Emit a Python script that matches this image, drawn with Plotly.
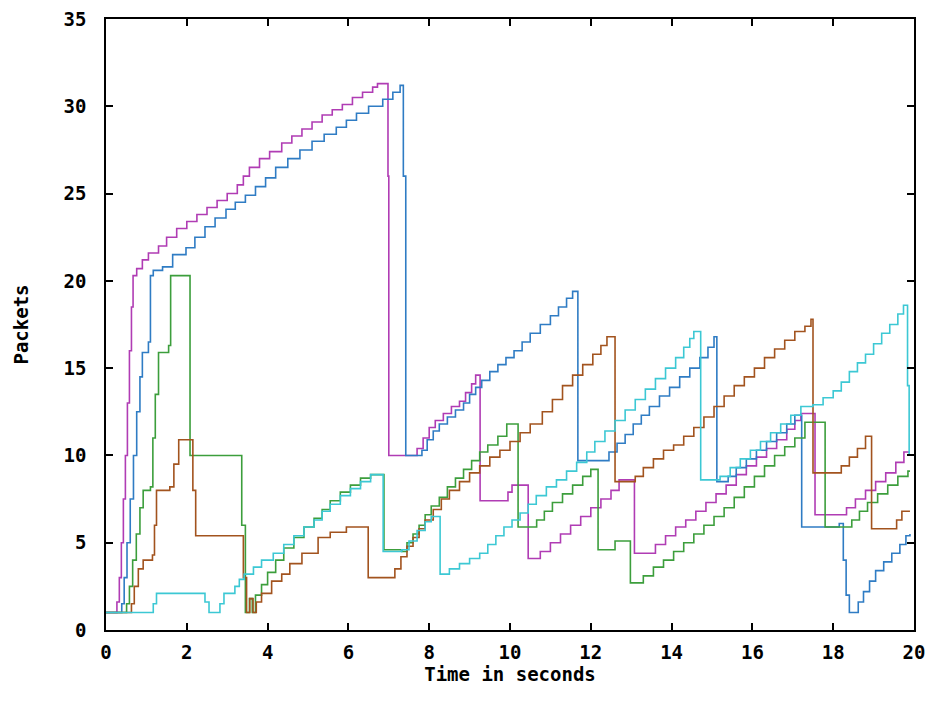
import plotly.graph_objects as go

# ---- data (time in seconds, packets) ----
mag_t = [0, 0.27, 0.33, 0.38, 0.43, 0.48, 0.53, 0.58, 0.63, 0.67, 0.76, 0.9, 1.05, 1.3, 1.5, 1.75, 2.0, 2.25, 2.5, 2.75, 3.0, 3.25, 3.4, 3.55, 3.8, 4.05, 4.35, 4.6, 4.85, 5.1, 5.35, 5.6, 5.85, 6.1, 6.35, 6.6, 6.72, 6.98, 7.0, 7.7, 7.85, 8.0, 8.15, 8.35, 8.55, 8.75, 8.9, 9.05, 9.15, 9.26, 9.95, 10.05, 10.45, 10.75, 11.0, 11.25, 11.5, 11.75, 12.0, 12.25, 12.5, 12.7, 13.08, 13.6, 13.85, 14.1, 14.35, 14.6, 14.85, 15.1, 15.35, 15.6, 15.85, 16.1, 16.35, 16.6, 16.85, 17.05, 17.2, 17.55, 18.33, 18.55, 18.8, 19.05, 19.3, 19.55, 19.75, 19.9]
mag_v = [1, 1.6, 3, 5, 7.5, 10, 13, 16, 18.5, 20.3, 20.7, 21.2, 21.6, 22.0, 22.5, 23.0, 23.4, 23.8, 24.2, 24.6, 25.0, 25.5, 26.0, 26.5, 27.0, 27.4, 27.9, 28.3, 28.7, 29.1, 29.5, 29.8, 30.1, 30.5, 30.8, 31.1, 31.3, 26.0, 10.0, 10.4, 11.0, 11.6, 12.0, 12.4, 12.8, 13.1, 13.6, 14.1, 14.6, 7.4, 7.9, 8.3, 4.1, 4.5, 5.0, 5.5, 6.0, 6.5, 7.0, 7.5, 8.0, 8.6, 4.4, 4.9, 5.4, 5.9, 6.3, 6.8, 7.3, 7.8, 8.3, 8.9, 9.4, 9.9, 10.4, 10.9, 11.5, 12.0, 12.4, 6.6, 7.0, 7.5, 8.0, 8.5, 9.0, 9.6, 10.2, 10.2]

blue_t = [0, 0.39, 0.45, 0.52, 0.6, 0.68, 0.76, 0.84, 0.9, 1.05, 1.1, 1.17, 1.4, 1.65, 1.98, 2.2, 2.45, 2.7, 2.97, 3.2, 3.45, 3.7, 3.95, 4.2, 4.5, 4.8, 5.1, 5.4, 5.7, 5.95, 6.2, 6.5, 6.85, 7.1, 7.28, 7.36, 7.42, 7.82, 7.95, 8.1, 8.25, 8.45, 8.65, 8.85, 9.0, 9.15, 9.3, 9.5, 9.7, 9.9, 10.1, 10.3, 10.5, 10.75, 11.0, 11.2, 11.4, 11.55, 11.68, 12.45, 12.65, 12.85, 13.05, 13.25, 13.45, 13.7, 13.95, 14.2, 14.45, 14.7, 14.9, 15.05, 15.12, 15.4, 15.6, 15.85, 16.1, 16.35, 16.6, 16.85, 17.05, 17.22, 18.15, 18.25, 18.32, 18.4, 18.62, 18.75, 18.9, 19.05, 19.25, 19.45, 19.65, 19.8, 19.9]
blue_v = [1, 1.5, 3, 5, 7.5, 10, 12.5, 14.5, 15.9, 16.5, 20.3, 20.6, 20.8, 21.5, 21.9, 22.5, 23.1, 23.6, 24.1, 24.5, 24.9, 25.4, 25.9, 26.5, 27.0, 27.5, 28.0, 28.4, 28.8, 29.2, 29.6, 30.0, 30.4, 30.8, 31.2, 26.0, 10.0, 10.3, 10.9, 11.4, 11.8, 12.2, 12.6, 13.0, 13.5, 13.9, 14.3, 14.8, 15.2, 15.6, 16.0, 16.5, 17.0, 17.5, 18.0, 18.5, 19.0, 19.4, 9.7, 10.2, 10.7, 11.2, 11.8, 12.3, 12.8, 13.4, 13.9, 14.5, 15.0, 15.6, 16.2, 16.8, 8.5, 8.8, 9.3, 9.8, 10.3, 10.8, 11.3, 11.8, 12.3, 5.9, 6.1, 4.0, 2.0, 1.0, 1.6, 2.2, 2.8, 3.4, 3.9, 4.4, 4.9, 5.4, 5.5]

green_t = [0, 0.51, 0.58, 0.66, 0.75, 0.84, 0.92, 1.1, 1.16, 1.22, 1.3, 1.55, 1.6, 2.08, 3.36, 3.45, 3.55, 3.62, 3.7, 3.85, 4.0, 4.2, 4.4, 4.65, 4.9, 5.15, 5.35, 5.55, 5.8, 6.05, 6.3, 6.55, 6.88, 7.32, 7.45, 7.6, 7.75, 7.9, 8.05, 8.25, 8.45, 8.65, 8.85, 9.05, 9.25, 9.45, 9.7, 9.92, 10.2, 10.66, 10.85, 11.05, 11.3, 11.55, 11.8, 12.0, 12.18, 12.6, 12.98, 13.3, 13.55, 13.8, 14.05, 14.3, 14.55, 14.8, 15.05, 15.3, 15.55, 15.8, 16.05, 16.3, 16.55, 16.8, 17.05, 17.3, 17.8, 18.46, 18.65, 18.85, 19.1, 19.35, 19.6, 19.85, 19.9]
green_v = [1, 1.5, 2.5, 4, 5.5, 7, 8.0, 8.2, 11, 13.5, 15.9, 16.3, 20.3, 10.0, 6.0, 1.0, 1.8, 1.0, 2.0, 2.6, 3.3, 4.0, 4.7, 5.3, 5.9, 6.4, 6.9, 7.4, 7.9, 8.3, 8.7, 8.9, 4.6, 4.5, 5.0, 5.5, 6.0, 6.6, 7.1, 7.6, 8.2, 8.7, 9.2, 9.7, 10.2, 10.6, 11.1, 11.8, 5.9, 6.3, 6.8, 7.3, 7.8, 8.3, 8.8, 9.2, 4.6, 5.1, 2.7, 3.1, 3.6, 4.0, 4.5, 5.0, 5.5, 6.0, 6.5, 7.0, 7.6, 8.2, 8.8, 9.4, 10.0, 10.5, 11.0, 11.9, 5.9, 6.3, 6.8, 7.3, 7.8, 8.3, 8.8, 9.1, 9.1]

brown_t = [0, 0.63, 0.7, 0.8, 0.92, 1.15, 1.2, 1.25, 1.58, 1.68, 1.8, 2.15, 2.22, 3.4, 3.48, 3.56, 3.64, 3.72, 3.85, 4.1, 4.35, 4.55, 4.85, 5.25, 5.55, 5.95, 6.49, 6.98, 7.15, 7.3, 7.45, 7.6, 7.75, 7.9, 8.1, 8.3, 8.5, 8.75, 9.0, 9.25, 9.5, 9.75, 10.0, 10.25, 10.5, 10.8, 11.05, 11.3, 11.55, 11.8, 12.05, 12.25, 12.4, 12.6, 13.1, 13.3, 13.55, 13.8, 14.05, 14.3, 14.55, 14.8, 15.05, 15.3, 15.55, 15.8, 16.05, 16.3, 16.55, 16.8, 17.05, 17.3, 17.45, 17.5, 18.2, 18.4, 18.6, 18.8, 18.95, 19.57, 19.7, 19.9]
brown_v = [1, 1.5, 2.5, 3.5, 4.0, 4.3, 6, 8.0, 8.2, 9.5, 10.9, 8, 5.4, 3, 1.0, 1.8, 1.0, 1.6, 2.1, 2.8, 3.2, 3.8, 4.4, 5.3, 5.6, 5.9, 3.0, 3.0, 3.5, 4.2, 4.8, 5.3, 5.8, 6.3, 6.9, 7.5, 8.0, 8.5, 9.0, 9.4, 9.9, 10.3, 10.8, 11.3, 11.8, 12.5, 13.2, 14.0, 14.6, 15.2, 15.8, 16.3, 16.8, 8.5, 8.8, 9.3, 9.8, 10.3, 10.6, 11.1, 11.6, 12.2, 12.8, 13.4, 14.0, 14.5, 15.0, 15.6, 16.1, 16.6, 17.1, 17.4, 17.8, 9.0, 9.4, 9.9, 10.4, 11.1, 5.8, 6.3, 6.8, 6.8]

cyan_t = [0, 1.17, 1.25, 2.45, 2.55, 2.82, 2.92, 3.19, 3.3, 3.42, 3.65, 3.85, 4.14, 4.4, 4.65, 4.9, 5.15, 5.35, 5.55, 5.8, 6.05, 6.3, 6.55, 6.86, 7.32, 7.5, 7.7, 7.9, 8.05, 8.27, 8.5, 8.75, 9.0, 9.25, 9.45, 9.65, 9.85, 10.05, 10.25, 10.45, 10.65, 10.9, 11.15, 11.4, 11.65, 11.9, 12.1, 12.35, 12.6, 12.85, 13.1, 13.35, 13.6, 13.85, 14.1, 14.3, 14.45, 14.55, 14.72, 15.2, 15.45, 15.7, 15.95, 16.2, 16.45, 16.7, 16.95, 17.2, 17.5, 17.75, 18.0, 18.2, 18.4, 18.6, 18.8, 19.0, 19.2, 19.4, 19.6, 19.74, 19.84, 19.88, 19.9]
cyan_v = [1, 1.5, 2.1, 1.6, 1.0, 1.5, 2.1, 2.5, 2.9, 3.2, 3.6, 4.0, 4.4, 4.9, 5.4, 5.9, 6.3, 6.8, 7.2, 7.7, 8.1, 8.5, 8.9, 4.5, 4.6, 5.1, 5.7, 6.2, 6.5, 3.2, 3.5, 3.8, 4.1, 4.4, 4.9, 5.4, 5.9, 6.3, 6.7, 7.2, 7.7, 8.2, 8.6, 9.1, 9.6, 10.2, 10.8, 11.4, 12.0, 12.6, 13.2, 13.8, 14.4, 15.0, 15.6, 16.2, 16.7, 17.1, 8.6, 8.8, 9.3, 9.8, 10.3, 10.8, 11.3, 11.8, 12.3, 12.8, 12.9, 13.3, 13.7, 14.2, 14.8, 15.3, 15.8, 16.4, 17.0, 17.5, 18.1, 18.6, 14.0, 10.1, 10.1]

x_ticks = [0, 2, 4, 6, 8, 10, 12, 14, 16, 18, 20]
y_ticks = [0, 5, 10, 15, 20, 25, 30, 35]

series = [
    (mag_t, mag_v, "#b03cb4"),
    (blue_t, blue_v, "#2f7cc4"),
    (green_t, green_v, "#3c9e3c"),
    (brown_t, brown_v, "#a2531e"),
    (cyan_t, cyan_v, "#3cc8d4"),
]

fig = go.Figure()
for t, v, col in series:
    fig.add_trace(go.Scatter(x=t, y=v, mode="lines", line=dict(color=col, width=1.6, shape="hv"),
                             showlegend=False, hoverinfo="skip"))

font = dict(family="DejaVu Sans Mono", size=19, color="black", weight="bold")
axis_common = dict(showgrid=False, zeroline=False, showline=True, linecolor="black", linewidth=1.6,
                   mirror="ticks", ticks="inside", ticklen=7, tickwidth=1.5, tickcolor="black",
                   tickfont=font, ticklabeloverflow="allow", automargin=False)

# the page body has an 8px margin; the figure is sized so the plot frame lands at
# about x 106..914 and y 19..630 of the 938x709 window
fig.update_layout(
    width=922, height=693,
    margin=dict(l=98, r=16, t=11, b=71),
    paper_bgcolor="white", plot_bgcolor="white",
    xaxis=dict(range=[0, 20], tickvals=x_ticks, ticktext=[str(v) for v in x_ticks],
               ticklabelstandoff=4,
               title=dict(text="Time in seconds", font=font, standoff=4), **axis_common),
    yaxis=dict(range=[0, 35], tickvals=y_ticks, ticktext=[str(v) for v in y_ticks],
               ticklabelstandoff=14,
               title=dict(text="Packets", font=font, standoff=30), **axis_common),
)

fig.write_html("out.html")
